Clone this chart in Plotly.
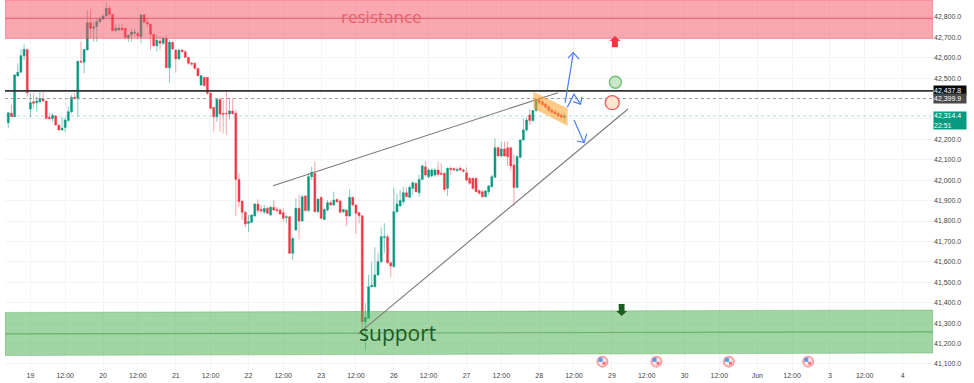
import plotly.graph_objects as go

opens = [42282,42328,42311,42511,42529,42610,42641,42349,42385,42380,
42385,42400,42388,42308,42302,42315,42271,42246,42258,42292,
42336,42406,42400,42583,42578,42638,42772,42744,42752,42777,
42790,42805,42842,42813,42733,42736,42746,42746,42698,42712,
42720,42720,42703,42811,42774,42765,42715,42659,42682,42671,
42695,42551,42676,42638,42594,42638,42630,42602,42573,42573,
42548,42467,42504,42504,42426,42357,42311,42396,42328,42328,
42325,42339,42328,42004,41898,41843,41789,41794,41825,41883,
41857,41844,41862,41830,41867,41857,41854,41841,41817,41821,
41642,41756,41862,41800,41923,41851,42017,42034,41846,41916,
41808,41854,41890,41879,41906,41898,41846,41854,41825,41916,
41879,41841,41826,41307,41323,41478,41478,41536,41601,41720,
41723,41596,41576,41846,41874,41895,41939,41916,41960,41985,
41939,42004,42066,42017,42021,42026,42050,42034,42034,41960,
42058,42057,42047,42058,42050,42037,42009,42009,42009,41949,
41944,41919,41944,41968,42014,42159,42119,42153,42159,42159,
42075,41964,42112,42197,42246,42320,42292,42341,42393,42385,
42373,42360,42344,42336,42328,42320,42308]
highs = [42331,42369,42516,42573,42641,42666,42641,42426,42426,42409,
42434,42434,42388,42328,42328,42318,42271,42308,42308,42360,
42418,42426,42583,42679,42641,42834,42837,42777,42793,42801,
42813,42875,42859,42813,42765,42769,42769,42746,42712,42744,
42744,42723,42811,42811,42793,42765,42720,42712,42703,42703,
42712,42687,42679,42641,42641,42641,42638,42605,42581,42576,
42548,42516,42504,42504,42434,42357,42401,42401,42393,42434,
42401,42401,42344,42034,41898,41849,41830,41830,41887,41906,
41879,41879,41870,41874,41903,41870,41862,41862,41830,41825,
41723,41911,41928,41928,41928,42034,42066,42091,41908,41919,
41862,41903,41900,41944,41911,41903,41857,41857,41955,41919,
41879,41846,41826,41397,41536,41601,41671,41642,41769,41789,
41732,41601,41965,41933,41952,41968,41965,41977,41993,41988,
42026,42079,42094,42058,42058,42058,42091,42083,42037,42063,
42066,42063,42063,42070,42057,42063,42017,42014,42012,41955,
41952,41952,41977,42026,42205,42164,42189,42189,42192,42164,
42124,42124,42200,42303,42311,42347,42344,42396,42406,42396,
42380,42369,42352,42344,42336,42328,42328]
lows = [42254,42311,42311,42507,42529,42589,42409,42308,42352,42336,
42377,42385,42298,42295,42287,42266,42243,42241,42235,42287,
42328,42396,42311,42573,42524,42638,42695,42679,42679,42769,
42785,42801,42801,42728,42728,42733,42733,42695,42679,42679,
42703,42690,42671,42769,42752,42638,42654,42630,42638,42663,
42548,42478,42638,42527,42592,42625,42597,42565,42560,42540,
42507,42462,42462,42418,42347,42238,42287,42238,42230,42222,
42298,42320,41825,41870,41805,41769,41748,41789,41821,41838,
41838,41834,41834,41825,41851,41838,41830,41797,41789,41639,
41609,41753,41710,41797,41846,41846,42001,41843,41838,41808,
41805,41846,41874,41874,41887,41838,41838,41776,41821,41870,
41737,41789,41266,41165,41323,41475,41475,41531,41593,41642,
41590,41524,41573,41841,41870,41879,41916,41911,41928,41939,
41919,42001,42017,42009,42014,42017,42017,42026,41944,41923,
42026,42045,42042,42045,42037,41993,41977,41952,41939,41928,
41916,41916,41928,41965,42014,42115,42112,42115,42070,42047,
41874,41960,42107,42194,42238,42271,42287,42336,42373,42364,
42352,42336,42328,42318,42308,42302,42287]
closes = [42331,42311,42516,42529,42610,42641,42429,42380,42377,42388,
42400,42388,42303,42302,42318,42271,42246,42254,42295,42336,
42406,42400,42583,42579,42641,42772,42744,42752,42777,42790,
42805,42842,42813,42733,42746,42746,42736,42698,42712,42726,
42725,42707,42811,42774,42765,42715,42659,42687,42671,42695,
42551,42676,42643,42594,42638,42630,42602,42573,42569,42548,
42512,42512,42463,42426,42352,42311,42396,42325,42323,42326,
42339,42326,42004,41895,41843,41785,41797,41830,41883,41851,
41849,41861,41838,41867,41854,41851,41834,41813,41821,41642,
41714,41862,41800,41919,41851,42017,42039,41846,41908,41813,
41857,41890,41879,41903,41895,41843,41857,41825,41916,41879,
41838,41826,41307,41327,41478,41485,41536,41601,41723,41723,
41596,41580,41846,41884,41900,41939,41919,41965,41988,41944,
42004,42070,42026,42050,42050,42050,42029,42029,41955,42058,
42053,42050,42053,42050,42044,42001,41985,41960,41944,41936,
41919,41947,41972,42017,42159,42119,42153,42119,42115,42070,
41964,42115,42197,42246,42295,42292,42341,42393,42380,42369,
42357,42341,42333,42324,42315,42308,42314.4]

day_labels = ["19","20","21","22","23","26","27","28","29","30","Jun","3","4"]
price_ticks = [41100,41200,41300,41400,41500,41600,41700,41800,41900,42000,
               42100,42200,42300,42400,42500,42600,42700,42800]
price_ticks_hidden = [42300, 42400]  # covered by the price tags in the reference

resistance_band = [42694, 42883]
resistance_mid = 42793
support_top = [41352, 41364]
support_bottom = [41141, 41153]
support_mid = [41247, 41257]
level_black = 42437.8
level_gray = 42399.9
level_last = 42314.4

BARS_PER_DAY = 23
FIRST_DAY_BAR = 7
NOON_OFFSET = 11
X_RANGE = [-1.04, 292.6]
Y_RANGE = [41070, 42883]

tickvals, ticktext = [], []
for n, lab in enumerate(day_labels):
    base = FIRST_DAY_BAR + n * BARS_PER_DAY
    tickvals.append(base); ticktext.append(lab)
    if n < len(day_labels) - 1:
        tickvals.append(base + NOON_OFFSET); ticktext.append("12:00")

price_text = ["" if v in price_ticks_hidden else f"{v:,.1f}" for v in price_ticks]

UP, DOWN = "#089981", "#f23645"
fig = go.Figure()

def line(x, y, color, width=1, dash="solid", mode="lines"):
    fig.add_trace(go.Scatter(x=x, y=y, mode=mode, hoverinfo="skip",
                             line=dict(color=color, width=width, dash=dash)))

def poly(x, y, fill, border=None):
    fig.add_trace(go.Scatter(x=x, y=y, mode="lines", fill="toself", fillcolor=fill,
                             hoverinfo="skip", line=dict(color=border or "rgba(0,0,0,0)", width=1)))

fig.add_trace(go.Candlestick(
    x=list(range(len(opens))), open=opens, high=highs, low=lows, close=closes,
    increasing=dict(line=dict(color="rgba(8,153,129,0.5)", width=1), fillcolor=UP),
    decreasing=dict(line=dict(color="rgba(242,54,69,0.45)", width=1), fillcolor=DOWN),
    whiskerwidth=0, hoverinfo="skip"))

# zones
x0, x1 = X_RANGE
poly([x0, x1, x1, x0, x0],
     [resistance_band[0], resistance_band[0], resistance_band[1], resistance_band[1], resistance_band[0]],
     "rgba(247,80,98,0.50)", "rgba(242,54,69,0.35)")
line(X_RANGE, [resistance_mid, resistance_mid], "rgba(200,50,65,0.5)", 1.2)
poly([x0, x1, x1, x0, x0],
     [support_bottom[0], support_bottom[1], support_top[1], support_top[0], support_bottom[0]],
     "rgba(76,175,80,0.52)", "rgba(60,160,70,0.35)")
line(X_RANGE, support_mid, "rgba(60,160,70,0.6)", 1.2)

# price levels
line(X_RANGE, [level_black, level_black], "#333333", 1.6)
line(X_RANGE, [level_gray, level_gray], "#9a9a9a", 1, "dot")
line(X_RANGE, [level_last, level_last], "rgba(8,153,129,0.3)", 1, "dot")

# trend lines
line([83.8, 173.9], [41973, 42429], "#7a7a7a", 1.1)
line([110.7, 196.1], [41247, 42349], "#7a7a7a", 1.1)

# falling channel
poly([166.1, 177, 177, 166.1, 166.1], [42434, 42353, 42266, 42353, 42434],
     "rgba(255,160,40,0.55)")

# projected paths
BLUE = "#4a7dfb"
line([176.2, 178.8, None, 177.1, 178.8, 180.6],
     [42379, 42625, None, 42598, 42625, 42593], BLUE, 1.2)
line([176.9, 179, 181.1, None, 181.5, 181.1, 178.8],
     [42358, 42421, 42372, None, 42409, 42372, 42385], BLUE, 1.2)
line([179, 182.2, None, 179.9, 182.2, 183],
     [42295, 42184, None, 42192, 42184, 42227], BLUE, 1.2)

# circles
fig.add_trace(go.Scatter(x=[192.1], y=[42480], mode="markers", hoverinfo="skip",
    marker=dict(size=12, color="rgba(190,225,190,0.8)", line=dict(color="#6cbf6e", width=1.3))))
fig.add_trace(go.Scatter(x=[191.1], y=[42380], mode="markers", hoverinfo="skip",
    marker=dict(size=14, color="#ffe6cf", line=dict(color="#f2555f", width=1.3))))

# block arrows
poly([191.98, 193.7, 192.9, 192.9, 191.0, 191.0, 190.25, 191.98],
     [42707, 42682, 42682, 42651, 42651, 42682, 42682, 42707], "#f23645")
poly([194.1, 195.8, 195.0, 195.0, 193.15, 193.15, 192.35, 194.1],
     [41335, 41359, 41359, 41394, 41394, 41359, 41359, 41335], "#1b5e20")

# event flags
flag_x = [188, 205.1, 228, 253.1]
flag_y = [41111, 41111, 41111, 41111]
fig.add_trace(go.Scatter(x=flag_x, y=flag_y, mode="markers", hoverinfo="skip",
    marker=dict(size=12, color="#f9a0a5")))
fig.add_trace(go.Scatter(x=flag_x, y=flag_y, mode="markers", hoverinfo="skip",
    marker=dict(size=8, color="#fbe9ea")))
fig.add_trace(go.Scatter(x=[v - 0.6 for v in flag_x], y=[v + 9 for v in flag_y], mode="markers", hoverinfo="skip",
    marker=dict(size=4, color="#4f9df0", symbol="square")))
fig.add_trace(go.Scatter(x=[v + 0.5 for v in flag_x], y=[v - 8 for v in flag_y], mode="markers", hoverinfo="skip",
    marker=dict(size=3, color="#f2707a", symbol="square")))

def tag(y, text, bg, h=9, color="white"):
    fig.add_annotation(xref="paper", yref="y", x=1.0, y=y, xanchor="left", yanchor="middle",
                       text=text, showarrow=False, bgcolor=bg, width=32, height=h, align="left",
                       borderpad=0, font=dict(family="Liberation Sans", size=7, color=color))

tag(level_black, "42,437.8", "#0a0a0a")
tag(level_gray, "42,399.9", "#4a4a4a")
tag(42293, "42,314.4<br>22:51", "#089981", h=17)

fig.add_annotation(x=118.2, y=42800, text="resistance", showarrow=False, xanchor="center", yanchor="middle",
                   font=dict(family="Open Sans", size=17, color="#e8606c"))
fig.add_annotation(x=123.3, y=41252, text="support", showarrow=False, xanchor="center", yanchor="middle",
                   font=dict(family="Open Sans", size=21, color="#1a5a1e"))

fig.update_layout(
    width=974, height=383, showlegend=False, paper_bgcolor="white", plot_bgcolor="white",
    margin=dict(l=5, r=41, t=0, b=13, pad=0), boxgap=0.12,
    xaxis=dict(range=X_RANGE, tickvals=tickvals, ticktext=ticktext, rangeslider=dict(visible=False),
               showgrid=True, gridcolor="#f4f4f6", gridwidth=1, zeroline=False, showline=False, ticks="",
               tickfont=dict(family="Liberation Sans", size=7, color="#444"), automargin=False),
    yaxis=dict(range=Y_RANGE, side="right", tickvals=price_ticks, ticktext=price_text,
               showgrid=True, gridcolor="#f4f4f6", gridwidth=1, zeroline=False, showline=False, ticks="",
               tickfont=dict(family="Liberation Sans", size=7, color="#444"), automargin=False),
)
fig.write_html("out.html", config={"displayModeBar": False},
               post_script="document.body.style.margin='0';document.documentElement.style.overflow='hidden';")
